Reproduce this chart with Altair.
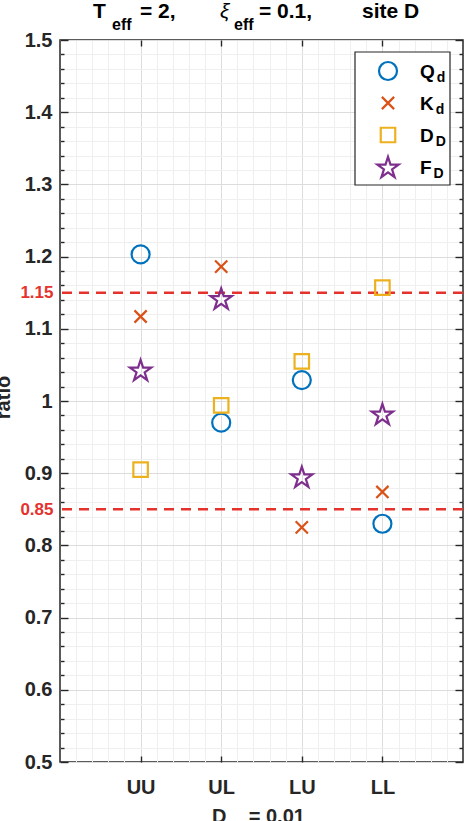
import altair as alt
import pandas as pd

# ---------------- data ----------------
categories = ["UU", "UL", "LU", "LL"]
series = ["Qd", "Kd", "DD", "FD"]
series_main = ["Q", "K", "D", "F"]
series_sub = ["d", "d", "D", "D"]
values_Qd = [1.203, 0.970, 1.029, 0.830]
values_Kd = [1.117, 1.186, 0.825, 0.874]
values_DD = [0.905, 0.994, 1.055, 1.157]
values_FD = [1.043, 1.142, 0.895, 0.982]
thresholds = [1.15, 0.85]
threshold_labels = ["1.15", "0.85"]
x_domain = [0, 5]
y_domain = [0.5, 1.5]

# ---------------- styles ----------------
colors = ["#0072BD", "#D95319", "#EDB120", "#7E2F8E"]
STAR = ("M0,-0.905L0.2245,-0.2135L0.951,-0.2135L0.363,0.2135L0.588,0.9045"
        "L0,0.4775L-0.588,0.9045L-0.363,0.2135L-0.951,-0.2135L-0.2245,-0.2135Z")
XMARK = "M-1,-1L1,1M-1,1L1,-1"
shapes = ["circle", XMARK, "square", STAR]
sizes = [324, 150, 210, 500]
FONT = "Liberation Sans"
AX = "#262626"
RED = "#e5322d"
NB = "\u00a0"
W, H = 403, 722

all_values = [values_Qd, values_Kd, values_DD, values_FD]
rows = []
for s, vals in zip(series, all_values):
    for i, (c, v) in enumerate(zip(categories, vals)):
        rows.append({"category": c, "pos": i + 1, "series": s, "value": v})
df = pd.DataFrame(rows)

xs = alt.Scale(domain=x_domain, nice=False, zero=False)
ys = alt.Scale(domain=y_domain, nice=False, zero=False)

x_grid_vals = [round(0.2 * i, 1) for i in range(1, 25)]
y_grid_vals = [round(0.5 + 0.02 * i, 2) for i in range(0, 51)]
maj_x = "abs(datum.value - round(datum.value)) < 0.001"
maj_y = "abs(datum.value*10 - round(datum.value*10)) < 0.001"
cat_arr = "[" + ",".join("'%s'" % c for c in categories) + "]"

one = pd.DataFrame({"k": [0]})

# grid + labels layer
grid = alt.Chart(df).mark_point(opacity=0).encode(
    x=alt.X("pos:Q", scale=xs, axis=alt.Axis(
        values=x_grid_vals, grid=True,
        gridColor={"condition": {"test": maj_x, "value": "#dcdcdc"}, "value": "#efefef"},
        gridWidth=1, ticks=False, tickSize=0, domain=False,
        labelExpr="(%s) ? %s[round(datum.value)-1] : ''" % (maj_x, cat_arr),
        labelOverlap=False, labelFlush=False, labelPadding=15,
        labelFont=FONT, labelFontSize=20, labelFontWeight="bold", labelColor=AX,
        title="D" + NB * 4 + "=" + NB + "0.01", titleFont=FONT, titleFontSize=20,
        titleFontWeight="bold", titleColor=AX, titleBaseline="alphabetic",
        titleY=60, titleX=198)),
    y=alt.Y("value:Q", scale=ys, axis=alt.Axis(
        values=y_grid_vals, grid=True,
        gridColor={"condition": {"test": maj_y, "value": "#dcdcdc"}, "value": "#efefef"},
        gridWidth=1, ticks=False, tickSize=0, domain=False,
        labelExpr="(%s) ? format(datum.value, '.1~f') : ''" % maj_y,
        labelOverlap=False, labelPadding=8,
        labelFont=FONT, labelFontSize=20, labelFontWeight="bold", labelColor=AX,
        title="ratio", titleFont=FONT, titleFontSize=20, titleFontWeight="bold",
        titleColor=AX, titleBaseline="alphabetic", titleX=-51, titleY=357)),
)

tick_size_y = {"condition": {"test": maj_y, "value": 8}, "value": 4}

# inward ticks on left and bottom edges
ticks_a = alt.Chart(df).mark_point(opacity=0).encode(
    x=alt.X("pos:Q", scale=xs, axis=alt.Axis(
        orient="top", offset=-H, values=[1, 2, 3, 4], tickSize=6, tickColor=AX,
        tickWidth=1.4, labels=False, grid=False, domain=False, title=None)),
    y=alt.Y("value:Q", scale=ys, axis=alt.Axis(
        orient="right", offset=-W, values=y_grid_vals, tickSize=tick_size_y,
        tickColor=AX, tickWidth=1.4, labels=False, grid=False, domain=False, title=None)),
)
# inward ticks on right and top edges
ticks_b = alt.Chart(df).mark_point(opacity=0).encode(
    x=alt.X("pos:Q", scale=xs, axis=alt.Axis(
        orient="bottom", offset=-H, values=[1, 2, 3, 4], tickSize=6, tickColor=AX,
        tickWidth=1.4, labels=False, grid=False, domain=False, title=None)),
    y=alt.Y("value:Q", scale=ys, axis=alt.Axis(
        orient="left", offset=-W, values=y_grid_vals, tickSize=tick_size_y,
        tickColor=AX, tickWidth=1.4, labels=False, grid=False, domain=False, title=None)),
)

thr_df = pd.DataFrame({"t": thresholds, "lab": threshold_labels})
red_labels = alt.Chart(thr_df).mark_point(opacity=0).encode(
    y=alt.Y("t:Q", scale=ys, axis=alt.Axis(
        orient="left", values=thresholds, ticks=False, tickSize=0, grid=False,
        domain=False, labelPadding=7, labelColor=RED, labelFont=FONT,
        labelFontSize=17, labelFontWeight="bold", format=".2f", title=None)),
)
rules = alt.Chart(thr_df).mark_rule(color=RED, strokeWidth=2.5, strokeDash=[10, 7]).encode(
    y=alt.Y("t:Q", scale=ys, axis=None)
)

points = alt.Chart(df).mark_point(filled=False, strokeWidth=2.2, opacity=1).encode(
    x=alt.X("pos:Q", scale=xs, axis=None),
    y=alt.Y("value:Q", scale=ys, axis=None),
    shape=alt.Shape("series:N", scale=alt.Scale(domain=series, range=shapes), legend=None),
    color=alt.Color("series:N", scale=alt.Scale(domain=series, range=colors), legend=None),
    size=alt.Size("series:N", scale=alt.Scale(type="ordinal", domain=series, range=sizes),
                  legend=None),
)

# ---------------- legend (manual, for subscripts) ----------------
legend_layers = [
    alt.Chart(one).mark_rect(fill="white", stroke=AX, strokeWidth=1.2).encode(
        x=alt.value(295), x2=alt.value(390), y=alt.value(12), y2=alt.value(145))
]
letter_w = {"Q": 0.778, "K": 0.722, "D": 0.722, "F": 0.611}
for i, (m, sb) in enumerate(zip(series_main, series_sub)):
    yc = 31 + 32 * i
    legend_layers.append(
        alt.Chart(one).mark_point(filled=False, strokeWidth=2.2, shape=shapes[i],
                                  size=sizes[i], color=colors[i], opacity=1).encode(
            x=alt.value(328), y=alt.value(yc)))
    legend_layers.append(
        alt.Chart(one).mark_text(text=m, align="left", baseline="alphabetic", font=FONT,
                                 fontSize=19, fontWeight="bold", color="#000000").encode(
            x=alt.value(360), y=alt.value(yc + 7)))
    legend_layers.append(
        alt.Chart(one).mark_text(text=sb, align="left", baseline="alphabetic", font=FONT,
                                 fontSize=14, fontWeight="bold", color="#000000").encode(
            x=alt.value(362 + letter_w[m] * 19), y=alt.value(yc + 11)))

# ---------------- title pieces (for subscripts) ----------------
title_pieces = [
    ("T", 33, -22, 21, "bold", "normal"),
    ("eff", 52, -10, 16, "bold", "normal"),
    ("=" + NB + "2,", 80, -22, 21, "bold", "normal"),
    ("ξ", 160, -22, 21, "normal", "italic"),
    ("eff", 174, -10, 16, "bold", "normal"),
    ("=" + NB + "0.1,", 199, -22, 21, "bold", "normal"),
    ("site" + NB + "D", 302, -22, 21, "bold", "normal"),
]
title_layers = [
    alt.Chart(one).mark_text(text=t, align="left", baseline="alphabetic", font=FONT,
                             fontSize=fs, fontWeight=fw, fontStyle=fst, color="#000000").encode(
        x=alt.value(x), y=alt.value(y))
    for t, x, y, fs, fw, fst in title_pieces
]

chart = alt.layer(
    grid, ticks_a, ticks_b, red_labels, rules, points, *legend_layers, *title_layers
).resolve_axis(x="independent", y="independent").properties(
    width=W, height=H,
    autosize=alt.AutoSizeParams(type="none"),
    padding={"left": 60, "top": 40, "right": 10, "bottom": 59},
    background="white",
).configure_view(stroke=AX, strokeWidth=1.5)

chart.save("out.html", embed_options={"renderer": "svg", "actions": False})
